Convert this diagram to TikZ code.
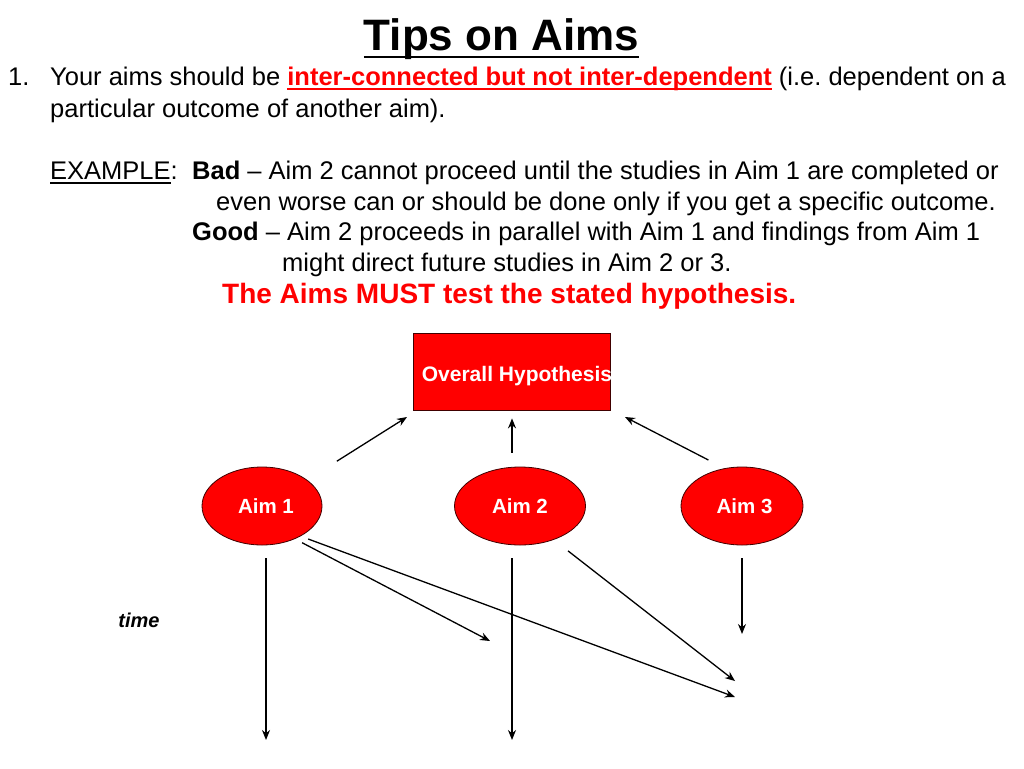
\documentclass[tikz,border=0pt]{standalone}
\usepackage{fontspec}
\setmainfont{Liberation Sans}
\usetikzlibrary{shapes.geometric,arrows.meta}
\newcommand\myul[1]{\setbox0\hbox{#1}\rlap{\rule[-0.19em]{\wd0}{0.06em}}\box0}
\frenchspacing
\begin{document}
\begin{tikzpicture}[>={Stealth[length=10pt,width=8pt]},x=1pt,y=-1pt,
	body/.style={anchor=base west,inner sep=0pt,font=\fontsize{25.5}{30}\selectfont},
	aim/.style={ellipse,draw=black!75!red,line width=0.8pt,fill=red,minimum height=78pt,inner sep=0pt,text=white,font=\bfseries\fontsize{20.5}{24}\selectfont},
	link/.style={->,line width=1.3pt}]
	\useasboundingbox (0,0) rectangle (1024,768);
	\node[anchor=base,inner sep=0pt,font=\bfseries\fontsize{44}{50}\selectfont] (title) at (501.5,50) {\myul{Tips on Aims}};
	\node[body] (num) at (8,85) {1.};
	\node[body] (pt1) at (50,85) {Your aims should be \textcolor{red}{\bfseries\myul{inter-connected but not inter-dependent}} (i.e. dependent on a};
	\node[body] (pt1b) at (50,117) {particular outcome of another aim).};
	\node[body] (ex) at (50,179) {\myul{EXAMPLE}:};
	\node[body] (bad) at (192,179) {\textbf{Bad} \textendash{} Aim 2 cannot proceed until the studies in Aim 1 are completed or};
	\node[body] (bad2) at (216,210) {even worse can or should be done only if you get a specific outcome.};
	\node[body] (good) at (192,240) {\textbf{Good} \textendash{} Aim 2 proceeds in parallel with Aim 1 and findings from Aim 1};
	\node[body] (good2) at (282,271) {might direct future studies in Aim 2 or 3.};
	\node[body,text=red,font=\bfseries\fontsize{28}{33}\selectfont] (must) at (222,303) {The Aims MUST test the stated hypothesis.};
	\node[draw=black!75!red,line width=0.8pt,fill=red,minimum width=197pt,minimum height=77pt,inner sep=0pt] (hyp) at (511.5,371.5) {};
	\node[anchor=base,inner sep=0pt,text=white,font=\bfseries\fontsize{21}{25}\selectfont] (hyptext) at (517,381) {Overall Hypothesis};
	\node[aim,minimum width=120pt] (aim1) at (262,506) {\hspace{8pt}Aim 1};
	\node[aim,minimum width=131pt] (aim2) at (520,506) {Aim 2};
	\node[aim,minimum width=122pt] (aim3) at (742,506) {\hspace{5pt}Aim 3};
	\node[inner sep=0pt,font=\bfseries\itshape\fontsize{20}{24}\selectfont] (time) at (139,620) {time};
	\coordinate (h1) at (407,417);
	\coordinate (h3) at (625,417);
	\coordinate (t1) at (266,740);
	\coordinate (t2) at (512,740);
	\coordinate (t3) at (742,634);
	\coordinate (d1) at (490,641);
	\coordinate (d2) at (735,681);
	\coordinate (d3) at (735,697);
	\draw[link,shorten <=14pt,shorten >=8pt] ([xshift=-8pt]aim2.north) -- ([xshift=0.5pt]hyp.south);
	\draw[link,shorten <=35pt] (aim1.30) -- (h1);
	\draw[link,shorten <=18pt] (aim3.115) -- (h3);
	\draw[link,shorten <=13pt] ([xshift=4pt]aim1.south) -- (t1);
	\draw[link,shorten <=13pt] ([xshift=-8pt]aim2.south) -- (t2);
	\draw[link,shorten <=13pt] (aim3.south) -- (t3);
	\draw[link,shorten <=8pt] (aim1.-45) -- (d1);
	\draw[link,shorten <=8pt] (aim1.-38) -- (d3);
	\draw[link,shorten <=18pt] (aim2.-45) -- (d2);
\end{tikzpicture}
\end{document}
